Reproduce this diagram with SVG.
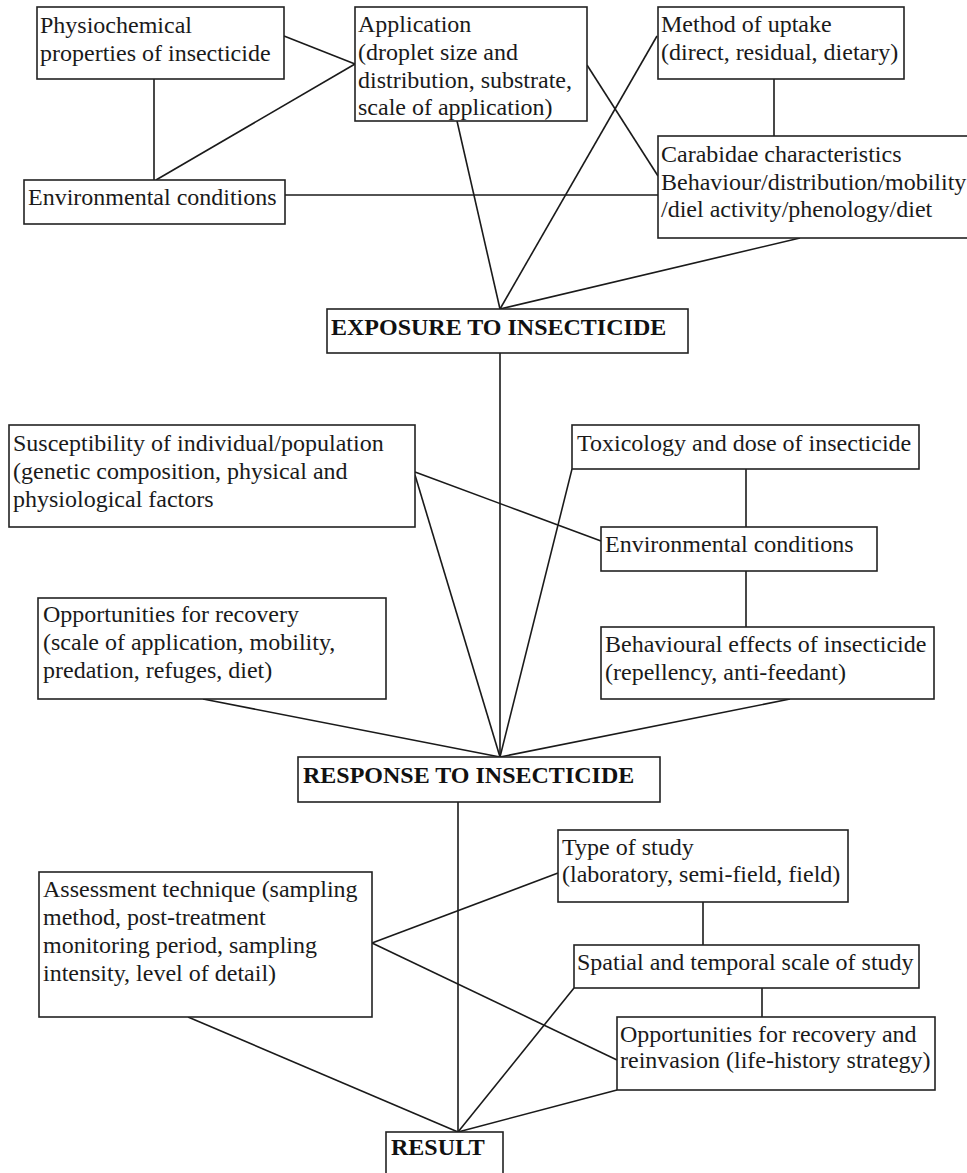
<svg xmlns="http://www.w3.org/2000/svg" width="967" height="1173" viewBox="0 0 967 1173">
<style>
.box{fill:#fff;stroke:#222;stroke-width:1.6}
.t{font-family:"Liberation Serif","Times New Roman",serif;font-size:24px;fill:#1a1a1a}
.b{font-weight:bold;fill:#111}
.c line{stroke:#1a1a1a;stroke-width:1.6}
</style>
<rect width="967" height="1173" fill="#fff"/>
<g class="c" id="connectors">
<line x1="284" y1="36" x2="355" y2="64"/>
<line x1="156" y1="180" x2="355" y2="64"/>
<line x1="154" y1="79" x2="154" y2="180"/>
<line x1="285" y1="195" x2="658" y2="195"/>
<line x1="587" y1="65" x2="658" y2="176"/>
<line x1="774" y1="79" x2="774" y2="136"/>
<line x1="457" y1="121" x2="500" y2="309"/>
<line x1="657" y1="36" x2="500" y2="309"/>
<line x1="800" y1="238" x2="500" y2="309"/>
<line x1="500" y1="353" x2="500" y2="757"/>
<line x1="415" y1="472" x2="601" y2="541"/>
<line x1="415" y1="475" x2="500" y2="757"/>
<line x1="572" y1="469" x2="500" y2="757"/>
<line x1="746" y1="469" x2="746" y2="527"/>
<line x1="746" y1="571" x2="746" y2="627"/>
<line x1="203" y1="699" x2="500" y2="757"/>
<line x1="790" y1="699" x2="500" y2="757"/>
<line x1="458" y1="802" x2="458" y2="1132"/>
<line x1="372" y1="943" x2="558" y2="873"/>
<line x1="372" y1="943" x2="617" y2="1060"/>
<line x1="188" y1="1017" x2="458" y2="1132"/>
<line x1="703" y1="902" x2="703" y2="945"/>
<line x1="762" y1="988" x2="762" y2="1017"/>
<line x1="574" y1="988" x2="458" y2="1132"/>
<line x1="617" y1="1090" x2="458" y2="1132"/>
</g>
<g id="physiochemical"><rect class="box" x="37" y="7" width="247" height="72"/><text class="t" x="40" y="33">Physiochemical</text><text class="t" x="40" y="61">properties of insecticide</text></g>
<g id="application"><rect class="box" x="355" y="7" width="232" height="114"/><text class="t" x="358" y="32">Application</text><text class="t" x="358" y="60">(droplet size and</text><text class="t" x="358" y="88">distribution, substrate,</text><text class="t" x="358" y="115">scale of application)</text></g>
<g id="method"><rect class="box" x="658" y="7" width="246" height="72"/><text class="t" x="661" y="32">Method of uptake</text><text class="t" x="661" y="60">(direct, residual, dietary)</text></g>
<g id="env-top"><rect class="box" x="24" y="180" width="261" height="44"/><text class="t" x="28" y="205">Environmental conditions</text></g>
<g id="carabidae"><rect class="box" x="658" y="136" width="330" height="102"/><text class="t" x="661" y="162">Carabidae characteristics</text><text class="t" x="661" y="190">Behaviour/distribution/mobility</text><text class="t" x="661" y="217">/diel activity/phenology/diet</text></g>
<g id="exposure"><rect class="box" x="327" y="309" width="361" height="44"/><text class="t b" x="331" y="335">EXPOSURE TO INSECTICIDE</text></g>
<g id="susceptibility"><rect class="box" x="9" y="425" width="406" height="102"/><text class="t" x="13" y="451">Susceptibility of individual/population</text><text class="t" x="13" y="479">(genetic composition, physical and</text><text class="t" x="13" y="507">physiological factors</text></g>
<g id="toxicology"><rect class="box" x="572" y="425" width="347" height="44"/><text class="t" x="577" y="451">Toxicology and dose of insecticide</text></g>
<g id="env-mid"><rect class="box" x="601" y="527" width="276" height="44"/><text class="t" x="605" y="552">Environmental conditions</text></g>
<g id="opportunities"><rect class="box" x="38" y="598" width="348" height="101"/><text class="t" x="43" y="622">Opportunities for recovery</text><text class="t" x="43" y="650">(scale of application, mobility,</text><text class="t" x="43" y="678">predation, refuges, diet)</text></g>
<g id="behavioural"><rect class="box" x="601" y="627" width="333" height="72"/><text class="t" x="605" y="652">Behavioural effects of insecticide</text><text class="t" x="605" y="680">(repellency, anti-feedant)</text></g>
<g id="response"><rect class="box" x="298" y="757" width="362" height="45"/><text class="t b" x="303" y="783">RESPONSE TO INSECTICIDE</text></g>
<g id="type-of-study"><rect class="box" x="558" y="830" width="290" height="72"/><text class="t" x="562" y="855">Type of study</text><text class="t" x="562" y="882">(laboratory, semi-field, field)</text></g>
<g id="assessment"><rect class="box" x="39" y="872" width="333" height="145"/><text class="t" x="43" y="897">Assessment technique (sampling</text><text class="t" x="43" y="925">method, post-treatment</text><text class="t" x="43" y="953">monitoring period, sampling</text><text class="t" x="43" y="981">intensity, level of detail)</text></g>
<g id="spatial"><rect class="box" x="574" y="945" width="345" height="43"/><text class="t" x="577" y="970">Spatial and temporal scale of study</text></g>
<g id="opportunities-reinvasion"><rect class="box" x="617" y="1017" width="318" height="73"/><text class="t" x="620" y="1042">Opportunities for recovery and</text><text class="t" x="620" y="1068">reinvasion (life-history strategy)</text></g>
<g id="result"><rect class="box" x="386" y="1132" width="117" height="60"/><text class="t b" x="391" y="1155">RESULT</text></g>
</svg>
